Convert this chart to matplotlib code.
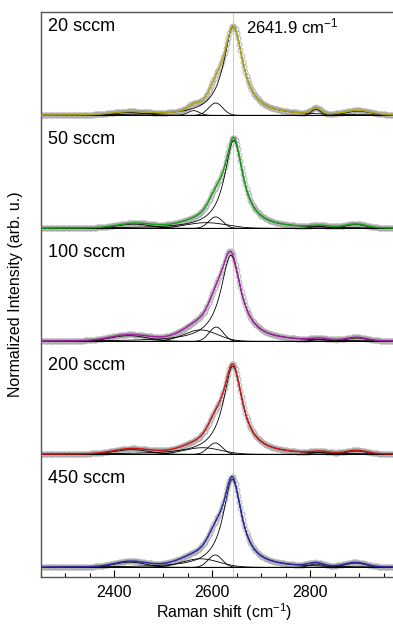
import numpy as np
import matplotlib.pyplot as plt

plt.rcParams['font.family'] = ['Liberation Sans', 'DejaVu Sans']
plt.rcParams['mathtext.default'] = 'regular'

# sample labels and fit colours, top to bottom
labels = ["20 sccm", "50 sccm", "100 sccm", "200 sccm", "450 sccm"]
fit_colors = ["#aca510", "#14a014", "#a020a0", "#c41818", "#2828a8"]

# fitted components: centre (cm-1), FWHM (cm-1), height
# first entry of each panel is the main 2D (Lorentzian), the rest are Gaussians
pos_20 = [2643, 2607, 2562, 2430, 2812, 2898]
fwhm_20 = [48, 34, 28, 80, 22, 60]
amp_20 = [0.93, 0.13, 0.05, 0.03, 0.065, 0.045]

pos_50 = [2644, 2607, 2588, 2440, 2820, 2893]
fwhm_50 = [46, 34, 100, 80, 40, 50]
amp_50 = [0.92, 0.12, 0.06, 0.045, 0.02, 0.04]

pos_100 = [2638, 2608, 2576, 2430, 2820, 2895]
fwhm_100 = [50, 34, 80, 90, 40, 50]
amp_100 = [0.90, 0.15, 0.12, 0.06, 0.02, 0.035]

pos_200 = [2642, 2606, 2580, 2435, 2820, 2895]
fwhm_200 = [48, 34, 90, 85, 40, 50]
amp_200 = [0.92, 0.12, 0.07, 0.05, 0.02, 0.035]

pos_450 = [2641, 2606, 2576, 2432, 2812, 2893]
fwhm_450 = [46, 34, 90, 75, 35, 50]
amp_450 = [0.92, 0.13, 0.09, 0.055, 0.035, 0.045]

positions = [pos_20, pos_50, pos_100, pos_200, pos_450]
widths = [fwhm_20, fwhm_50, fwhm_100, fwhm_200, fwhm_450]
amps = [amp_20, amp_50, amp_100, amp_200, amp_450]

g_peak = 2641.9
offset_step = 1.18


def lorentz(x, x0, w, a):
    return a * (w / 2) ** 2 / ((x - x0) ** 2 + (w / 2) ** 2)


def gauss(x, x0, w, a):
    return a * np.exp(-4 * np.log(2) * ((x - x0) / w) ** 2)


x = np.arange(2250, 3001, 1.0)
xd = np.arange(2250, 3001, 2.5)

fig = plt.figure(figsize=(3.93, 6.28), dpi=100)
ax = fig.add_axes([41 / 393, 1 - 577 / 628, 367 / 393, 565 / 628])

ax.axvline(g_peak, color='#cccccc', lw=0.7, zorder=0)

n = len(labels)
for i in range(n):
    off = (n - 1 - i) * offset_step
    comps = []
    comps_d = []
    for k, (c, w, a) in enumerate(zip(positions[i], widths[i], amps[i])):
        f = lorentz if k == 0 else gauss
        comps.append(f(x, c, w, a))
        comps_d.append(f(xd, c, w, a))
    fit = np.sum(comps, axis=0)
    data = np.sum(comps_d, axis=0)

    ax.plot(xd, data + off, 'o', mfc='none', mec='#ababab', ms=3.6, mew=0.6, zorder=1)
    for comp in comps:
        ax.plot(x, comp + off, color='black', lw=0.6, zorder=2)
    ax.plot(x, fit + off, color=fit_colors[i], lw=1.1, zorder=3)
    ax.text(2264, off + 0.88, labels[i], fontsize=13, ha='left', va='baseline')

ax.text(2668, 4 * offset_step + 0.86, "2641.9 cm$^{-1}$", fontsize=12, ha='left', va='baseline')

ax.set_xlim(2250, 3000)
ax.set_ylim(-0.1, 5.8)
ax.set_yticks([])
ax.set_xticks([2400, 2600, 2800])
ax.set_xticks(np.arange(2250, 3001, 50), minor=True)
ax.tick_params(axis='x', which='major', direction='in', length=5, width=0.8, labelsize=11.5, pad=6)
ax.tick_params(axis='x', which='minor', direction='in', length=3, width=0.8)
for s in ax.spines.values():
    s.set_color('#555555')
    s.set_linewidth(1.0)

ax.set_xlabel("Raman shift (cm$^{-1}$)", fontsize=11.5, labelpad=1)
ax.set_ylabel("Normalized Intensity (arb. u.)", fontsize=11.5, labelpad=13)

fig.savefig('out.png', dpi=100)
